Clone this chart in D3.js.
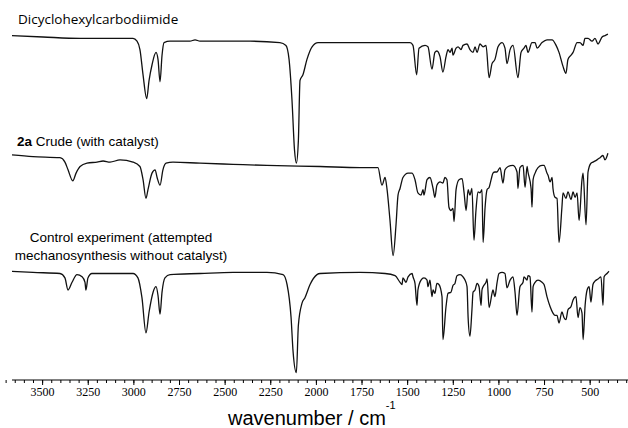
<!DOCTYPE html>
<html>
<head>
<meta charset="utf-8">
<script src="https://cdn.jsdelivr.net/npm/d3@7"></script>
<style>
  body { margin: 0; background: #fff; }
  .label { font-family: "Liberation Sans", Arial, sans-serif; font-size: 13.5px; fill: #000; }
  .tick text { font-family: "Liberation Serif", "Times New Roman", serif; font-size: 12px; }
</style>
</head>
<body>
<svg id="chart"></svg>
<script>
// Wavenumbers (cm-1) and transmittance (%T, each spectrum scaled on its own)
const dccWavenumber = [3665, 3495, 3292, 3073, 3002, 2980, 2964, 2947, 2927, 2914, 2898, 2876, 2865, 2854, 2843, 2832, 2799, 2690, 2662, 2635, 2525, 2361, 2197, 2164, 2147, 2131, 2117, 2107, 2096, 2087, 2071, 2049, 2021, 1988, 1923, 1758, 1539, 1484, 1468, 1448, 1435, 1402, 1386, 1364, 1348, 1337, 1320, 1304, 1287, 1276, 1265, 1254, 1249, 1232, 1221, 1205, 1194, 1172, 1156, 1139, 1128, 1117, 1101, 1084, 1068, 1051, 1035, 1019, 1002, 980, 964, 953, 936, 920, 893, 876, 860, 849, 838, 816, 799, 788, 761, 734, 706, 684, 668, 646, 630, 619, 602, 591, 569, 553, 536, 526, 509, 487, 471, 454, 432, 416, 400];
const dccTransmittance = [96, 95, 94, 94, 94, 92, 86, 68, 51, 64, 75, 84, 79, 63, 82, 91, 92, 92, 93, 92, 92, 92, 91, 89, 79, 50, 14, 5, 21, 64, 68, 79, 88, 91, 91, 91, 91, 91, 89, 68, 87, 89, 88, 72, 84, 85, 81, 70, 81, 86, 84, 87, 82, 87, 88, 86, 89, 90, 86, 84, 88, 84, 90, 88, 89, 66, 76, 79, 88, 91, 87, 76, 86, 89, 66, 84, 87, 89, 84, 91, 91, 87, 91, 93, 93, 89, 84, 74, 69, 79, 82, 84, 91, 91, 89, 94, 94, 92, 94, 90, 95, 96, 97];

const crudeWavenumber = [3665, 3550, 3402, 3375, 3358, 3332, 3314, 3292, 3254, 3199, 3166, 3128, 3073, 3002, 2964, 2947, 2931, 2920, 2898, 2881, 2870, 2854, 2838, 2821, 2783, 2635, 2454, 2268, 1977, 1758, 1660, 1638, 1621, 1610, 1594, 1577, 1561, 1550, 1539, 1523, 1495, 1473, 1457, 1441, 1424, 1413, 1408, 1391, 1375, 1358, 1348, 1337, 1320, 1304, 1293, 1282, 1271, 1260, 1249, 1243, 1232, 1216, 1199, 1188, 1177, 1166, 1156, 1145, 1134, 1123, 1112, 1101, 1090, 1084, 1073, 1062, 1051, 1040, 1030, 1019, 1008, 991, 975, 964, 947, 920, 898, 893, 882, 865, 854, 843, 838, 821, 816, 810, 799, 783, 761, 750, 734, 728, 717, 706, 701, 690, 679, 668, 652, 646, 630, 619, 602, 591, 580, 569, 558, 542, 536, 520, 509, 493, 482, 460, 443, 427, 416, 400];
const crudeTransmittance = [95.5, 94, 93, 89, 82, 72, 79, 85, 88, 89, 90, 89, 91, 89, 85, 73, 56, 64, 79, 82, 75, 68, 82, 88, 89, 88, 87, 86, 85, 84, 84, 68, 75, 64, 36, 4, 32, 59, 65, 75, 79, 79, 73, 61, 59, 64, 59, 73, 75, 65, 57, 68, 71, 70, 75, 73, 48, 45, 47, 35, 64, 73, 74, 61, 45, 64, 59, 65, 18, 45, 62, 61, 64, 16, 48, 64, 66, 73, 79, 80, 80, 84, 70, 82, 85, 86, 80, 65, 84, 86, 66, 85, 80, 65, 48, 73, 79, 84, 86, 86, 79, 77, 71, 75, 65, 57, 56, 16, 48, 61, 56, 62, 55, 62, 57, 61, 36, 73, 79, 32, 80, 88, 89, 91, 93, 95, 91, 97];

const controlWavenumber = [3665, 3550, 3402, 3375, 3358, 3336, 3309, 3281, 3265, 3260, 3249, 3227, 3144, 3002, 2975, 2953, 2931, 2914, 2892, 2876, 2865, 2854, 2843, 2827, 2799, 2635, 2454, 2268, 2180, 2158, 2136, 2125, 2107, 2096, 2076, 2060, 2032, 1994, 1977, 1758, 1621, 1566, 1539, 1528, 1523, 1506, 1495, 1473, 1468, 1457, 1446, 1441, 1424, 1408, 1391, 1386, 1375, 1364, 1358, 1348, 1337, 1326, 1309, 1304, 1287, 1276, 1260, 1249, 1238, 1227, 1210, 1194, 1183, 1172, 1166, 1156, 1145, 1139, 1128, 1117, 1106, 1095, 1090, 1084, 1068, 1062, 1051, 1035, 1030, 1019, 1008, 997, 980, 964, 953, 936, 920, 909, 898, 882, 865, 860, 843, 838, 827, 816, 810, 799, 783, 761, 750, 734, 717, 701, 690, 679, 668, 652, 641, 630, 619, 602, 591, 575, 564, 553, 542, 536, 525, 514, 503, 493, 482, 471, 454, 438, 427, 421, 405, 394];
const controlTransmittance = [97, 96, 95, 91, 80, 87, 94, 92, 87, 80, 91, 95, 95, 95, 91, 73, 41, 60, 78, 83, 75, 58, 78, 91, 94, 95, 96, 96, 94, 85, 55, 24, 5, 48, 68, 73, 85, 94, 95, 96, 95, 93, 87, 85, 91, 87, 92, 95, 92, 86, 66, 80, 89, 91, 89, 83, 89, 74, 80, 77, 86, 85, 74, 35, 65, 77, 78, 84, 86, 93, 94, 92, 89, 83, 55, 38, 62, 78, 80, 86, 83, 66, 80, 83, 87, 90, 64, 77, 80, 74, 86, 95, 96, 95, 82, 89, 92, 78, 57, 83, 87, 92, 89, 93, 92, 60, 83, 87, 89, 87, 85, 74, 65, 59, 57, 57, 50, 60, 55, 53, 62, 65, 71, 74, 55, 64, 59, 35, 66, 80, 83, 69, 85, 88, 90, 92, 66, 92, 95, 97];

const tickLabels = [3500, 3250, 3000, 2750, 2500, 2250, 2000, 1750, 1500, 1250, 1000, 750, 500];
const minorTicks = d3.range(300, 3701, 50);

const width = 628;
const height = 428;

const spectra = [
  { w: dccWavenumber, t: dccTransmittance, top: 30, bottom: 170 },
  { w: crudeWavenumber, t: crudeTransmittance, top: 150, bottom: 260 },
  { w: controlWavenumber, t: controlTransmittance, top: 268, bottom: 378 }
];

const svg = d3.select("#chart").attr("width", width).attr("height", height);

const x = d3.scaleLinear().domain([3665, 290]).range([12, 628]);

spectra.forEach(s => {
  const y = d3.scaleLinear().domain([0, 100]).range([s.bottom, s.top]);
  const pts = s.w.map((w, i) => [w, s.t[i]]);
  const line = d3.line()
    .x(d => x(d[0]))
    .y(d => y(d[1]))
    .curve(d3.curveMonotoneX);
  svg.append("path")
    .datum(pts)
    .attr("d", line)
    .attr("fill", "none")
    .attr("stroke", "#111")
    .attr("stroke-width", 1.3)
    .attr("stroke-linejoin", "round");
});

// axis: minor ticks every 50, labelled ones every 250
const axisY = 380;
svg.append("g")
  .attr("transform", `translate(0,${axisY})`)
  .call(d3.axisBottom(x).tickValues(minorTicks).tickSize(3).tickSizeOuter(0).tickFormat(""))
  .call(g => g.select(".domain").remove());

svg.append("g")
  .attr("transform", `translate(0,${axisY})`)
  .call(d3.axisBottom(x).tickValues(tickLabels).tickSize(5).tickSizeOuter(0).tickPadding(2).tickFormat(d3.format("d")))
  .call(g => g.select(".domain").remove())
  .call(g => g.selectAll(".tick text").attr("fill", "#000"));

svg.append("line")
  .attr("x1", 12).attr("x2", 628)
  .attr("y1", axisY).attr("y2", axisY)
  .attr("stroke", "#000");

// titles
svg.append("text").attr("class", "label")
  .attr("x", 18).attr("y", 24)
  .style("font-family", "'Open Sans', sans-serif")
  .style("font-size", "13.5px")
  .text("Dicyclohexylcarbodiimide");

const crude = svg.append("text").attr("class", "label").attr("x", 17).attr("y", 146);
crude.append("tspan").attr("font-weight", "bold").text("2a");
crude.append("tspan").text(" Crude (with catalyst)");

svg.append("text").attr("class", "label")
  .attr("x", 121).attr("y", 242).attr("text-anchor", "middle")
  .text("Control experiment (attempted");
svg.append("text").attr("class", "label")
  .attr("x", 121).attr("y", 260).attr("text-anchor", "middle")
  .text("mechanosynthesis without catalyst)");

const xt = svg.append("text")
  .attr("x", 228).attr("y", 425)
  .style("font-family", "'Liberation Sans', Arial, sans-serif")
  .style("font-size", "20px");
xt.append("tspan").text("wavenumber / cm");
xt.append("tspan").attr("dy", -16).style("font-size", "11px").text("-1");
</script>
</body>
</html>
